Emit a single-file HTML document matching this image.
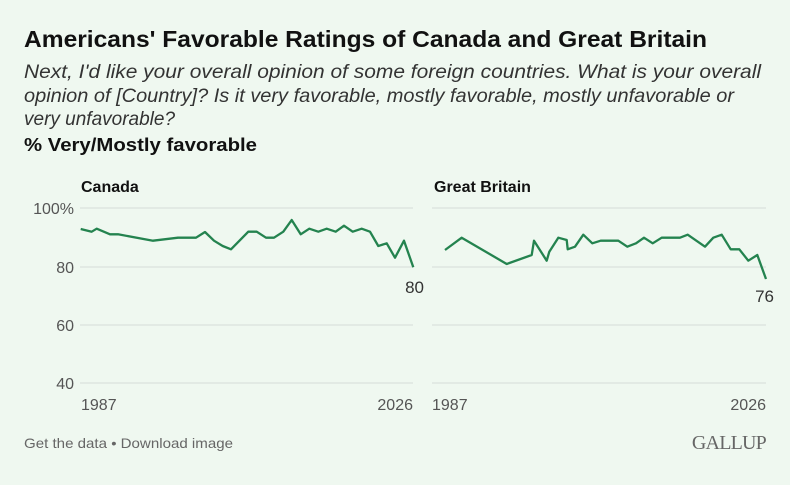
<!DOCTYPE html>
<html><head><style>
html,body{margin:0;padding:0;width:790px;height:485px;overflow:hidden;background:#eff8f0;font-family:"Liberation Sans",sans-serif;}
</style></head><body>
<svg width="790" height="485" xmlns="http://www.w3.org/2000/svg" style="position:absolute;left:0;top:0">
<text x="24" y="47" font-size="23" font-weight="bold" fill="#111" textLength="683" lengthAdjust="spacingAndGlyphs">Americans' Favorable Ratings of Canada and Great Britain</text>
<g font-size="19" font-style="italic" fill="#333">
<text x="24" y="78" textLength="737" lengthAdjust="spacingAndGlyphs">Next, I'd like your overall opinion of some foreign countries. What is your overall</text>
<text x="24" y="102" textLength="710" lengthAdjust="spacingAndGlyphs">opinion of [Country]? Is it very favorable, mostly favorable, mostly unfavorable or</text>
<text x="24" y="125">very unfavorable?</text>
</g>
<text x="24" y="151" font-size="18" font-weight="bold" fill="#111" textLength="233" lengthAdjust="spacingAndGlyphs">% Very/Mostly favorable</text>
<text x="81" y="192" font-size="16" font-weight="bold" fill="#111">Canada</text>
<text x="434" y="192" font-size="16" font-weight="bold" fill="#111">Great Britain</text>
<g stroke="#d6ddd7" stroke-width="1">
<line x1="80" y1="208" x2="413" y2="208"/><line x1="80" y1="267" x2="413" y2="267"/><line x1="80" y1="325" x2="413" y2="325"/><line x1="80" y1="383" x2="413" y2="383"/>
<line x1="432" y1="208" x2="766" y2="208"/><line x1="432" y1="267" x2="766" y2="267"/><line x1="432" y1="325" x2="766" y2="325"/><line x1="432" y1="383" x2="766" y2="383"/>
</g>
<g font-size="16" fill="#555" text-anchor="end">
<text x="74" y="214">100%</text><text x="74" y="273">80</text><text x="74" y="331">60</text><text x="74" y="389">40</text>
</g>
<g font-size="16" fill="#555">
<text x="81" y="410">1987</text><text x="413" y="410" text-anchor="end">2026</text>
<text x="432" y="410">1987</text><text x="766" y="410" text-anchor="end">2026</text>
</g>
<polyline fill="none" stroke="#24834f" stroke-width="2.3" stroke-linejoin="round" points="80.7,229 91.7,231.7 96.7,228.7 110,234.3 118,234.3 153,240.7 178,237.7 196,237.7 205,232 214,240.7 222.7,246 231,249.3 248.3,231.7 256.7,231.7 266,237.7 274,237.7 283.3,231.7 291.7,220 300.7,234.3 309.3,228.7 318.3,231.7 326.7,228.7 335.7,231.7 344,225.7 352.7,231.7 361.7,228.7 370,231.7 378.3,246 386.7,243.3 395,257.7 404,240.7 413.3,267.3"/>
<polyline fill="none" stroke="#24834f" stroke-width="2.3" stroke-linejoin="round" points="445,250 461.7,237.7 506.7,264 531.7,255 534,240.7 546.7,260.7 549.3,251.7 558.3,237.7 566.7,240 567.7,249.3 575,246.7 583.3,234.7 592.3,243.3 600.7,240.7 618.3,240.7 627.3,246.7 636,243.3 644,237.7 652.7,243.3 661.7,237.7 680,237.7 687.7,234.7 705,246.7 713.3,237.7 721.7,234.7 730.7,249.3 739.3,249.3 748.3,260.7 757.3,255 766,279"/>
<text x="424" y="293" font-size="17" fill="#333" text-anchor="end">80</text>
<text x="774" y="302" font-size="17" fill="#333" text-anchor="end">76</text>
<text x="24" y="448" font-size="14" fill="#666" textLength="209" lengthAdjust="spacingAndGlyphs">Get the data • Download image</text>
<text x="766" y="449" font-size="20" fill="#666" font-family="Liberation Serif,serif" text-anchor="end" letter-spacing="-0.8">GALLUP</text>
</svg>
</body></html>
